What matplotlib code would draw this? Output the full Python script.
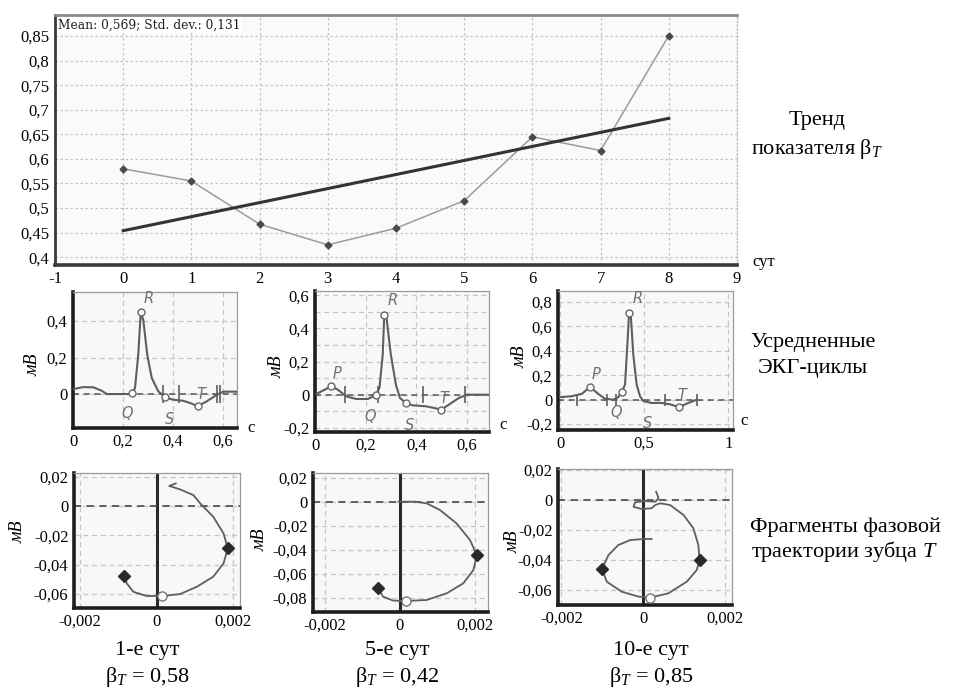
import matplotlib
matplotlib.use('agg')
import matplotlib.pyplot as plt
import numpy as np

plt.rcParams['font.family'] = ['Liberation Serif', 'DejaVu Serif']
plt.rcParams['mathtext.fontset'] = 'custom'
plt.rcParams['mathtext.rm'] = 'Liberation Serif'
plt.rcParams['mathtext.it'] = 'Liberation Serif:italic'

# --- trend of beta_T by day ---
days = [0, 1, 2, 3, 4, 5, 6, 7, 8]
beta = [0.580, 0.555, 0.467, 0.425, 0.459, 0.515, 0.645, 0.617, 0.851]
beta_mean_txt = '0,569'
beta_std_txt = '0,131'

# --- averaged ECG cycles (t in s, v in mV) ---
ecg1_t = [0.0, 0.041, 0.081, 0.115, 0.135, 0.228, 0.237, 0.248, 0.261, 0.271, 0.281, 0.297,
          0.315, 0.341, 0.368, 0.401, 0.441, 0.468, 0.499, 0.535, 0.575, 0.601, 0.655]
ecg1_v = [0.027, 0.038, 0.037, 0.018, 0.0, 0.0, 0.005, 0.033, 0.215, 0.447, 0.407, 0.215,
          0.088, 0.015, -0.018, -0.031, -0.037, -0.049, -0.066, -0.04, -0.004, 0.013, 0.013]
ecg1_waves = {'Q': 6, 'R': 9, 'S': 14, 'T': 18}
ecg1_bounds = [0.359, 0.425, 0.577, 0.588]

ecg2_t = [0.005, 0.038, 0.064, 0.09, 0.123, 0.162, 0.208, 0.24, 0.254, 0.267, 0.273, 0.282,
          0.299, 0.319, 0.335, 0.358, 0.384, 0.437, 0.469, 0.498, 0.528, 0.567, 0.6, 0.682]
ecg2_v = [0.004, 0.03, 0.05, 0.03, -0.01, -0.026, -0.026, -0.004, 0.04, 0.241, 0.482, 0.462,
          0.241, 0.06, -0.02, -0.05, -0.064, -0.07, -0.08, -0.09, -0.06, -0.02, 0.0, 0.0]
ecg2_waves = {'P': 2, 'Q': 7, 'R': 10, 'S': 15, 'T': 19}
ecg2_bounds = [0.119, 0.25, 0.424, 0.593]

ecg3_t = [0.0, 0.069, 0.129, 0.178, 0.227, 0.267, 0.316, 0.346, 0.366, 0.386, 0.402, 0.41,
          0.421, 0.435, 0.455, 0.475, 0.494, 0.544, 0.604, 0.653, 0.706, 0.762, 0.811]
ecg3_v = [0.02, 0.028, 0.047, 0.104, 0.047, 0.008, 0.0, 0.02, 0.063, 0.123, 0.506, 0.711,
          0.67, 0.369, 0.123, 0.028, -0.011, -0.027, -0.027, -0.038, -0.06, -0.027, 0.0]
ecg3_waves = {'P': 3, 'Q': 8, 'R': 11, 'S': 16, 'T': 20}
ecg3_bounds = [0.099, 0.277, 0.332, 0.623, 0.811]

# --- phase trajectory fragments of the T wave ---
ph1_x = [0.0005, 0.00033, 0.0004, 0.00061, 0.00096, 0.00114, 0.00148, 0.00175, 0.00186,
         0.00175, 0.00148, 0.00105, 0.00061, 0.00015, -0.00026, -0.00061, -0.00078, -0.00084]
ph1_y = [0.0155, 0.0137, 0.0132, 0.0114, 0.0075, 0.0018, -0.0073, -0.0187, -0.0289,
         -0.0392, -0.0483, -0.0552, -0.0602, -0.0615, -0.0615, -0.0586, -0.0529, -0.0479]
ph1_dia, ph1_circ = [8, 17], [13]

ph2_x = [-0.00004, 0.0004, 0.00071, 0.00107, 0.00151, 0.00187, 0.00205, 0.00196, 0.00169,
         0.00125, 0.00071, 0.00015, -0.00018, -0.00045, -0.00058]
ph2_y = [0.0003, 0.0003, -0.0011, -0.0067, -0.0178, -0.0317, -0.0442, -0.0567, -0.0678,
         -0.0761, -0.0817, -0.0825, -0.0822, -0.0789, -0.0719]
ph2_dia, ph2_circ = [6, 14], [11]

ph3_x = [0.0002, 0.0, -0.00032, -0.00061, -0.00085, -0.00101, -0.00089, -0.00053, -0.00012,
         0.00016, 0.00061, 0.00106, 0.0013, 0.00137, 0.00134, 0.00122, 0.00098, 0.00065,
         0.00041, 0.00029, 0.0002, -0.00004, -0.00024, -0.0002, 0.00004, 0.00029, 0.00037,
         0.00033, 0.00031]
ph3_y = [-0.026, -0.026, -0.0267, -0.03, -0.0367, -0.046, -0.0545, -0.0611, -0.0644,
         -0.0651, -0.0622, -0.0544, -0.0467, -0.04, -0.03, -0.0189, -0.01, -0.0033,
         -0.0022, -0.0033, -0.0055, -0.006, -0.0045, -0.0015, -0.0007, -0.0011, 0.0011,
         0.0044, 0.0055]
ph3_dia, ph3_circ = [5, 13], [9]

captions = ['1-е сут', '5-е сут', '10-е сут']
caption_beta = ['0,58', '0,42', '0,85']

W, H = 956, 690
fig = plt.figure(figsize=(W / 100, H / 100), dpi=100)


def box(l, t, r, b):
    return fig.add_axes([l / W, 1 - b / H, (r - l) / W, (b - t) / H])


def fmt(v):
    s = ('%g' % v).replace('.', ',')
    return '0' if s == '-0' else s


def ticks(ax, xt, yt):
    ax.set_xticks(xt)
    ax.set_xticklabels([fmt(v) for v in xt])
    ax.set_yticks(yt)
    ax.set_yticklabels([fmt(v) for v in yt])
    ax.tick_params(length=0, labelsize=12, pad=4)


def small_style(ax):
    ax.set_facecolor('#f8f8f8')
    for s in ['left', 'bottom']:
        ax.spines[s].set_color('#1e1e1e')
        ax.spines[s].set_linewidth(2.6)
    for s in ['top', 'right']:
        ax.spines[s].set_color('#9a9a9a')
        ax.spines[s].set_linewidth(0.9)
    ax.grid(True, ls=(0, (4, 3)), color='#c6c6c6', lw=0.9)
    ax.set_axisbelow(True)


# ---------- top: trend ----------
ax = box(55, 15, 737, 265)
ax.set_facecolor('#fafafa')
ax.plot(days, beta, color='#9c9c9c', lw=1.1, marker='D', ms=3.5,
        mfc='#4a4a4a', mec='#4a4a4a', zorder=3)
k, b0 = np.polyfit(days, beta, 1)
xd = np.array([days[0], days[-1]])
ax.plot(xd, k * xd + b0, color='#333333', lw=2.2, zorder=4)
ax.set_xlim(-1, 9)
ax.set_ylim(0.384, 0.893)
ticks(ax, list(range(-1, 10)), [0.4, 0.45, 0.5, 0.55, 0.6, 0.65, 0.7, 0.75, 0.8, 0.85])
ax.grid(True, ls=(0, (2, 2)), color='#c4c4c4', lw=0.9)
ax.set_axisbelow(True)
ax.spines['left'].set_color('#3a3a3a'); ax.spines['left'].set_linewidth(2)
ax.spines['bottom'].set_color('#3a3a3a'); ax.spines['bottom'].set_linewidth(2.6)
ax.spines['top'].set_color('#8a8a8a'); ax.spines['top'].set_linewidth(2)
ax.spines['right'].set_color('#c0c0c0'); ax.spines['right'].set_linewidth(1)
ax.spines['right'].set_linestyle(':')
ax.text(0.005, 0.985, 'Mean: %s; Std. dev.: %s' % (beta_mean_txt, beta_std_txt),
        transform=ax.transAxes, ha='left', va='top', fontsize=8.8, family='DejaVu Serif',
        color='#222', bbox=dict(fc='white', ec='none', pad=1))
fig.text(752 / W, 1 - 262 / H, 'сут', fontsize=12, ha='left', va='center')

# ---------- middle: ECG cycles ----------
ecg_sets = [
    (ecg1_t, ecg1_v, ecg1_waves, ecg1_bounds, (73, 292, 237, 428), (0, 0.656), (-0.186, 0.559),
     [0, 0.2, 0.4, 0.6], [0, 0.2, 0.4], None),
    (ecg2_t, ecg2_v, ecg2_waves, ecg2_bounds, (315, 291, 489, 432), (0, 0.686), (-0.225, 0.625),
     [0, 0.2, 0.4, 0.6], [-0.2, 0, 0.2, 0.4, 0.6], 0.1),
    (ecg3_t, ecg3_v, ecg3_waves, ecg3_bounds, (558, 291, 733, 430), (-0.012, 1.027), (-0.248, 0.888),
     [0, 0.5, 1], [-0.2, 0, 0.2, 0.4, 0.6, 0.8], None),
]
lbl_off = {'P': (4, 9), 'Q': (-4, -15), 'R': (6, 10), 'S': (3, -16), 'T': (2, 8)}
ylabel_px = [(33, 365), (277, 367), (520, 357)]
c_px = [(247, 428), (499, 425), (740, 421)]

for i, (t, v, waves, bounds, frame, xl, yl, xt, yt, minor) in enumerate(ecg_sets):
    ax = box(*frame)
    small_style(ax)
    ax.set_xlim(*xl)
    ax.set_ylim(*yl)
    ticks(ax, xt, yt)
    if minor:
        ax.set_yticks(np.arange(-0.2, 0.65, minor), minor=True)
        ax.tick_params(which='minor', length=0)
        ax.grid(True, which='minor', ls=(0, (4, 3)), color='#c6c6c6', lw=0.9)
    ax.axhline(0, color='#555', lw=1.1, ls=(0, (4, 3)), zorder=2)
    ax.plot(t, v, color='#5e5e5e', lw=1.5, zorder=3)
    ax.vlines(bounds, -0.05, 0.05, color='#5e5e5e', lw=1.2, zorder=3)
    for name, j in waves.items():
        if not (i == 2 and name == 'S'):
            ax.plot(t[j], v[j], 'o', ms=5, mfc='white', mec='#666', mew=1, zorder=4)
        ax.annotate(name, (t[j], v[j]), xytext=lbl_off[name], textcoords='offset points',
                    ha='center', va='center', fontsize=10.5, style='italic',
                    family='DejaVu Sans', color='#707070')
    fig.text(ylabel_px[i][0] / W, 1 - ylabel_px[i][1] / H, 'мВ', rotation=90, fontsize=13,
             style='italic', ha='center', va='center')
    fig.text(c_px[i][0] / W, 1 - c_px[i][1] / H, 'с', fontsize=12, ha='left', va='center')

# ---------- bottom: phase trajectories ----------
ph_sets = [
    (ph1_x, ph1_y, ph1_dia, ph1_circ, (74, 473, 240, 608), (-0.00216, 0.00218), (-0.0697, 0.0226),
     [0.02, 0, -0.02, -0.04, -0.06]),
    (ph2_x, ph2_y, ph2_dia, ph2_circ, (313, 473, 488, 612), (-0.00232, 0.00235), (-0.0917, 0.0242),
     [0.02, 0, -0.02, -0.04, -0.06, -0.08]),
    (ph3_x, ph3_y, ph3_dia, ph3_circ, (558, 469, 732, 605), (-0.00208, 0.00216), (-0.070, 0.0207),
     [0.02, 0, -0.02, -0.04, -0.06]),
]
ph_ylabel_px = [(18, 532), (260, 540), (513, 542)]
cap_x = [147, 397, 651]

for i, (x, y, dia, circ, frame, xl, yl, yt) in enumerate(ph_sets):
    ax = box(*frame)
    small_style(ax)
    ax.set_xlim(*xl)
    ax.set_ylim(*yl)
    ticks(ax, [-0.002, 0, 0.002], yt)
    ax.axvline(0, color='#2a2a2a', lw=2.2, zorder=2)
    ax.axhline(0, color='#555', lw=1.3, ls=(0, (4, 3)), zorder=2)
    ax.plot(x, y, color='#5e5e5e', lw=1.3, zorder=3)
    xa, ya = np.array(x), np.array(y)
    ax.plot(xa[dia], ya[dia], 'D', ms=6, mfc='#2a2a2a', mec='#2a2a2a', zorder=4)
    ax.plot(xa[circ], ya[circ], 'o', ms=6.5, mfc='white', mec='#777', mew=1, zorder=4)
    fig.text(ph_ylabel_px[i][0] / W, 1 - ph_ylabel_px[i][1] / H, 'мВ', rotation=90, fontsize=13,
             style='italic', ha='center', va='center')
    fig.text(cap_x[i] / W, 1 - 650 / H, captions[i], fontsize=16, ha='center', va='center')
    fig.text(cap_x[i] / W, 1 - 677 / H, r'$\mathregular{β}_{T}$ = ' + caption_beta[i],
             fontsize=16, ha='center', va='center')

# ---------- right-hand descriptions ----------
fig.text(817 / W, 1 - 121 / H, 'Тренд', fontsize=16, ha='center', va='center')
fig.text(817 / W, 1 - 149 / H, r'показателя $\mathregular{β}_{T}$', fontsize=16,
         ha='center', va='center')
fig.text(813 / W, 1 - 342 / H, 'Усредненные', fontsize=16, ha='center', va='center')
fig.text(813 / W, 1 - 369 / H, 'ЭКГ-циклы', fontsize=16, ha='center', va='center')
fig.text(845 / W, 1 - 527 / H, 'Фрагменты фазовой', fontsize=16, ha='center', va='center')
fig.text(845 / W, 1 - 551 / H, 'траектории зубца $T$', fontsize=16, ha='center', va='center')

fig.savefig('out.png', dpi=100)
